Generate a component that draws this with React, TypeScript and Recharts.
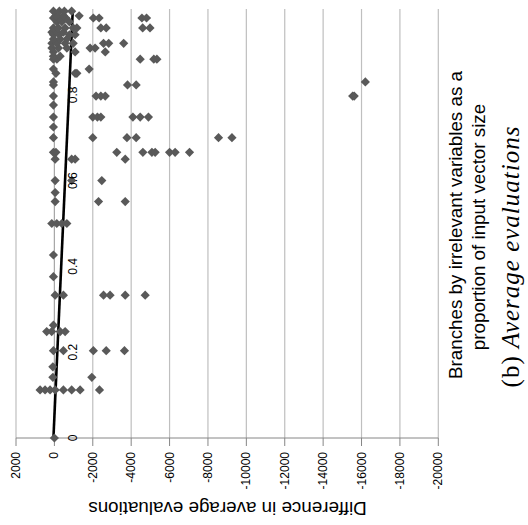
import React from "react";
import {
  ScatterChart,
  Scatter,
  XAxis,
  YAxis,
  CartesianGrid,
  ReferenceLine,
} from "recharts";

// proportion of irrelevant-variable branches (one row of points per value)
const proportionRows = [
  0, 0.112, 0.1415, 0.166, 0.2035, 0.248, 0.263, 0.333, 0.376, 0.4266, 0.5,
  0.551, 0.572, 0.6, 0.65, 0.666, 0.7, 0.725, 0.748, 0.776, 0.797, 0.823, 0.83,
  0.85, 0.86, 0.883, 0.89, 0.9, 0.909, 0.92, 0.93, 0.94, 0.946, 0.956, 0.97,
  0.979, 0.984, 0.995,
];

// difference in average evaluations for each row above
const differenceRows = [
  [0],
  [745, 485, 225, -40, -470, -900, -1340, -2350],
  [80, -1950],
  [80],
  [50, -470, -2030, -2700, -3650],
  [400, 140, -300, -560],
  [50],
  [-40, -470, -2560, -2900, -3690, -4730],
  [50],
  [50],
  [135, -125, -385, -650],
  [-40, -2300, -3690],
  [-40],
  [-40, -900, -2470],
  [-40, -900, -1080, -3690],
  [-80, 50, -3250, -4610, -5080, -5250, -6000, -6290, -7040],
  [50, -2000, -3780, -4260, -8550, -9250],
  [50],
  [50, -2000, -2240, -2420, -4090, -4470, -4900],
  [50],
  [50, -2170, -2420, -2650, -15540, -15620],
  [50, -3810, -4260],
  [50, -16200],
  [-80, -1080, -1170],
  [50, -1810],
  [50, -130, -4470, -5180, -5340],
  [50, -300],
  [50, -1080, -2650],
  [130, -210, -650, -1860, -2120],
  [130, -130, -560, -980, -2560, -2830, -3610],
  [50, -300, -650],
  [50, -260, -780, -1080],
  [130, -130, -470],
  [50, -210, -560, -980, -1170, -2420, -2700, -4600, -4980],
  [-130, -390, -780],
  [50, -260, -600, -2030, -2330, -4560, -4800],
  [-80, -470, -1290],
  [50, -260, -520, -900],
];

// linear trend line end points
const trendProportion = [0, 1];
const trendDifference = [50, -960];

const differenceTicks = [
  2000, 0, -2000, -4000, -6000, -8000, -10000, -12000, -14000, -16000, -18000,
  -20000,
];
const proportionTicks = [0, 0.2, 0.4, 0.6, 0.8];

const points = proportionRows.flatMap((p, i) =>
  differenceRows[i].map((d) => ({ d, p }))
);

const W = 528;
const H = 525;
const LEFT = 16;
const RIGHT = 89.7;
const TOP = 9;
const BOTTOM = 87;
const X_AXIS_H = 40;
const Y_AXIS_W = 2;
const plotWidth = W - LEFT - RIGHT;
const zeroX = LEFT + (2000 / 22000) * plotWidth;

const SANS = "'Liberation Sans', Arial, sans-serif";

const Diamond = (props: any) => {
  const { cx, cy } = props;
  const r = 4.6;
  return (
    <path
      d={`M${cx},${cy - r}L${cx + r},${cy}L${cx},${cy + r}L${cx - r},${cy}Z`}
      fill="#595959"
    />
  );
};

const DiffTick = (props: any) => {
  const { x, y, payload } = props;
  return (
    <text
      x={x}
      y={y}
      transform={`rotate(-90, ${x}, ${y})`}
      textAnchor="end"
      dominantBaseline="central"
      fontSize={12}
      fontFamily={SANS}
      fill="#000"
    >
      {payload.value}
    </text>
  );
};

const PropTick = (props: any) => {
  const { y, payload } = props;
  const x = zeroX + 18.6;
  return (
    <text
      x={x}
      y={y}
      transform={`rotate(-90, ${x}, ${y})`}
      textAnchor="middle"
      dominantBaseline="central"
      fontSize={12}
      fontFamily={SANS}
      fill="#000"
    >
      {payload.value}
    </text>
  );
};

const BottomTitle = () => (
  <text
    x={227.5}
    y={508}
    transform="rotate(180, 227.5, 508)"
    textAnchor="middle"
    dominantBaseline="central"
    fontSize={18.8}
    fontFamily={SANS}
    fill="#000"
  >
    Difference in average evaluations
  </text>
);

const SideTitles = () => (
  <g>
    <text
      x={461.5}
      y={225}
      transform="rotate(-90, 461.5, 225)"
      textAnchor="middle"
      fontSize={18.8}
      fontFamily={SANS}
      fill="#000"
    >
      Branches by irrelevant variables as a
    </text>
    <text
      x={485}
      y={227}
      transform="rotate(-90, 485, 227)"
      textAnchor="middle"
      fontSize={18.8}
      fontFamily={SANS}
      fill="#000"
    >
      proportion of input vector size
    </text>
    <text
      x={519}
      y={256.5}
      transform="rotate(-90, 519, 256.5)"
      textAnchor="middle"
      fontSize={25}
      letterSpacing={1}
      fontFamily="'Liberation Serif', 'Times New Roman', serif"
      fill="#000"
    >
      (b) <tspan fontStyle="italic">Average evaluations</tspan>
    </text>
  </g>
);

export default function App() {
  return (
    <div style={{ position: "absolute", left: 0, top: 0, background: "#fff" }}>
      <ScatterChart
        width={W}
        height={H}
        margin={{
          top: TOP,
          right: RIGHT,
          bottom: BOTTOM - X_AXIS_H,
          left: LEFT - Y_AXIS_W,
        }}
      >
        <CartesianGrid horizontal={false} stroke="#bfbfbf" strokeWidth={1.2} />
        <XAxis
          type="number"
          dataKey="d"
          domain={[-20000, 2000]}
          reversed
          ticks={differenceTicks}
          interval={0}
          height={X_AXIS_H}
          tickSize={8}
          tickMargin={6}
          stroke="#868686"
          tick={<DiffTick />}
          label={<BottomTitle />}
        />
        <YAxis
          type="number"
          dataKey="p"
          domain={[0, 1]}
          ticks={proportionTicks}
          interval={0}
          width={Y_AXIS_W}
          axisLine={false}
          tickLine={false}
          tick={<PropTick />}
          label={<SideTitles />}
        />
        <ReferenceLine x={0} stroke="#a6a6a6" strokeWidth={1} />
        <Scatter data={points} shape={<Diamond />} isAnimationActive={false} />
        <ReferenceLine
          segment={[
            { x: trendDifference[0], y: trendProportion[0] },
            { x: trendDifference[1], y: trendProportion[1] },
          ]}
          stroke="#000"
          strokeWidth={2.6}
        />
      </ScatterChart>
    </div>
  );
}
